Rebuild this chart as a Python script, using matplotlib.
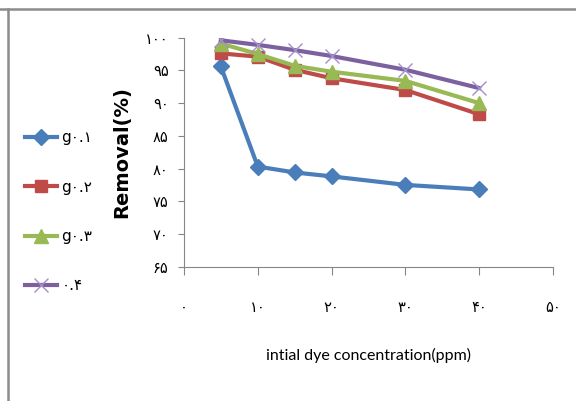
import matplotlib
matplotlib.use("Agg")
import matplotlib.pyplot as plt
from matplotlib.lines import Line2D

# Dye concentration (ppm) and removal (%) for each adsorbent dose
conc = [5, 10, 15, 20, 30, 40]
g01 = [95.6, 80.3, 79.4, 78.8, 77.5, 76.8]
g02 = [97.6, 97.1, 95.1, 93.8, 92.0, 88.3]
g03 = [99.1, 97.5, 95.7, 94.8, 93.4, 90.0]
g04 = [99.6, 98.9, 98.1, 97.2, 95.1, 92.3]
labels = ["g\u06f0.\u06f1", "g\u06f0.\u06f2", "g\u06f0.\u06f3", "\u06f0.\u06f4"]

xticks = [0, 10, 20, 30, 40, 50]
yticks = [65, 70, 75, 80, 85, 90, 95, 100]


def fa(n):
    # western digits -> persian digits
    return "".join(chr(0x06F0 + int(c)) for c in str(n))


fig = plt.figure(figsize=(5.76, 4.01), dpi=100)
ax = fig.add_axes([0.3194, 0.335, 0.6406, 0.571])

ax.plot(conc, g01, color="#4A7EBB", lw=3, marker="D", ms=8, label=labels[0])
ax.plot(conc, g02, color="#BE4B48", lw=3, marker="s", ms=9, label=labels[1])
ax.plot(conc, g03, color="#98B954", lw=3, marker="^", ms=10, label=labels[2])
ax.plot(conc, g04, color="#7D60A0", lw=3, marker="x", ms=10, mew=1,
        mec="#A58FCB", label=labels[3])

ax.set_xlim(0, 50)
ax.set_ylim(65, 100)
ax.set_xticks(xticks)
ax.set_yticks(yticks)
ax.set_xticklabels([fa(t) for t in xticks], fontsize=10.5, family="DejaVu Sans")
ax.set_yticklabels([fa(t) for t in yticks], fontsize=10.5, family="DejaVu Sans")

for s in ["top", "right"]:
    ax.spines[s].set_visible(False)
for s in ["left", "bottom"]:
    ax.spines[s].set_color("#868686")
ax.tick_params(axis="both", colors="#868686", labelcolor="black",
               direction="out")
ax.tick_params(axis="x", length=6, pad=18)
ax.tick_params(axis="y", length=4, pad=7)

ax.set_ylabel("Removal(%)", fontsize=14, fontweight="bold",
              family="DejaVu Sans", labelpad=10)
ax.set_xlabel("intial dye concentration(ppm)", fontsize=11.5,
              family=["Lato", "DejaVu Sans"], labelpad=24)

fig.legend(loc="upper left", bbox_to_anchor=(0.043, 0.675), frameon=False,
           borderpad=0, borderaxespad=0, labelspacing=2.25, handlelength=2.1,
           handletextpad=0.3, prop={"family": "DejaVu Sans", "size": 11})

# chart area border (top and left edges visible)
fig.add_artist(Line2D([0, 1], [0.978, 0.978], color="#8C8C8C", lw=1.8,
                      transform=fig.transFigure))
fig.add_artist(Line2D([0.014, 0.014], [0, 0.978], color="#8C8C8C", lw=1.8,
                      transform=fig.transFigure))

fig.savefig("out.png", dpi=100)
